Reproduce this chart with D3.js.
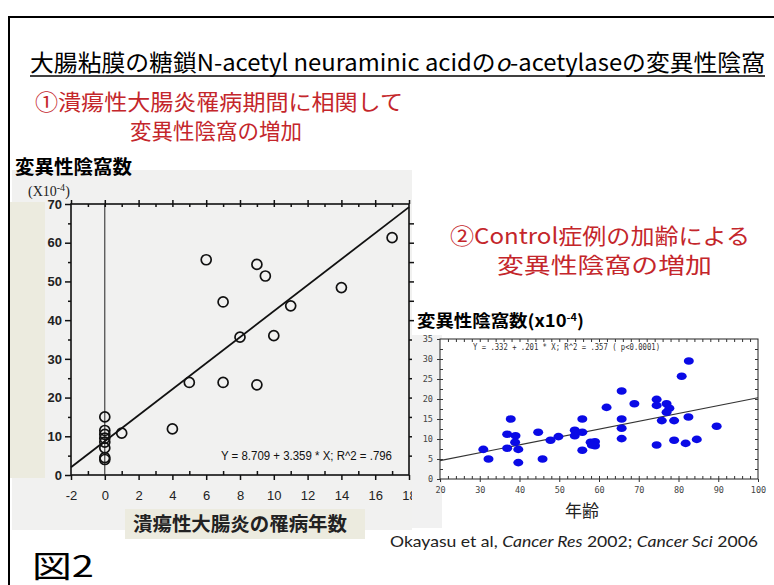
<!DOCTYPE html>
<html>
<head>
<meta charset="utf-8">
<script src="https://cdnjs.cloudflare.com/ajax/libs/d3/7.8.5/d3.min.js"></script>
<style>
body { margin: 0; background: #fff; }
svg { display: block; }
</style>
</head>
<body>
<svg></svg>
<script>
// left panel: years of disease vs variant crypts (x10^-4)
var leftYears  = [0, 0, 0, 0, 0, 0, 0, 0, 1, 4, 5, 7, 9, 8, 10, 6, 9, 9.5, 7, 11, 14, 17];
var leftCrypts = [15, 11.5, 10.5, 9.5, 8.5, 7, 4.5, 4, 10.8, 11.9, 23.9, 23.9, 23.3, 35.6, 36, 55.6, 54.4, 51.4, 44.7, 43.7, 48.4, 61.3];
var leftFitX = [-2, 18];
var leftFitY = [2.0, 69.2];
var leftXTicks = [-2, 0, 2, 4, 6, 8, 10, 12, 14, 16, 18];
var leftYTicks = [0, 10, 20, 30, 40, 50, 60, 70];

// right panel: age of control cases vs variant crypts
var rightAges   = [30.9, 32.2, 37.8, 36.9, 36.9, 39.0, 38.9, 39.7, 39.7, 44.7, 45.8, 47.8, 49.8, 53.9, 53.9, 55.8, 55.8, 55.8, 57.9, 59.0, 59.0, 58.2, 61.9, 65.7, 65.7, 65.7, 65.7, 68.9, 74.5, 74.5, 74.5, 77.0, 77.7, 77.0, 75.8, 78.9, 78.9, 80.8, 82.6, 82.5, 81.8, 84.6, 89.6];
var rightCrypts = [7.4, 5.0, 15.0, 11.2, 7.7, 10.8, 9.2, 7.4, 4.1, 11.7, 5.0, 9.7, 10.6, 12.2, 10.8, 15.0, 11.7, 7.2, 9.2, 9.3, 8.3, 8.5, 17.9, 22.0, 15.0, 12.7, 10.1, 18.8, 19.9, 18.4, 8.5, 18.8, 17.7, 16.7, 14.6, 14.6, 9.7, 25.7, 29.5, 15.5, 8.9, 9.9, 13.2];
var rightFitX = [20, 100];
var rightFitY = [4.6, 20.3];
var rightXTicks = [20, 30, 40, 50, 60, 70, 80, 90, 100];
var rightYTicks = [0, 5, 10, 15, 20, 25, 30, 35];

var W = 774, H = 585;
var jp = "'Noto Sans CJK JP', sans-serif";
var red = "#c4262b";

var svg = d3.select("svg").attr("width", W).attr("height", H);

svg.append("rect").attr("width", W).attr("height", H).attr("fill", "#fff");

// slide frame
svg.append("path")
    .attr("d", "M9,585 V17 H774")
    .attr("fill", "none")
    .attr("stroke", "#000")
    .attr("stroke-width", 2);

// title
svg.append("text")
    .attr("x", 30).attr("y", 71)
    .attr("font-family", jp).attr("font-size", 23)
    .attr("textLength", 735).attr("lengthAdjust", "spacingAndGlyphs")
    .html("大腸粘膜の糖鎖N-acetyl neuraminic acidの<tspan font-style='italic'>o</tspan>-acetylaseの変異性陰窩");
svg.append("line")
    .attr("x1", 30).attr("x2", 765).attr("y1", 76).attr("y2", 76)
    .attr("stroke", "#000").attr("stroke-width", 1.5);

var redLines = [
    {t: "①潰瘍性大腸炎罹病期間に相関して", x: 35, y: 110, w: 368},
    {t: "変異性陰窩の増加", x: 130, y: 139, w: 172},
    {t: "②Control症例の加齢による", x: 450, y: 244, w: 300},
    {t: "変異性陰窩の増加", x: 497, y: 273, w: 215}
];
svg.selectAll("text.red").data(redLines).enter().append("text")
    .attr("class", "red")
    .attr("x", function(d){ return d.x; })
    .attr("y", function(d){ return d.y; })
    .attr("textLength", function(d){ return d.w; })
    .attr("lengthAdjust", "spacingAndGlyphs")
    .attr("font-family", jp).attr("font-size", 22)
    .attr("fill", red)
    .text(function(d){ return d.t; });

// ---------- left panel ----------
svg.append("rect").attr("x", 12).attr("y", 170).attr("width", 400).attr("height", 360).attr("fill", "#f1f1f0");
svg.append("rect").attr("x", 10).attr("y", 202).attr("width", 35).attr("height", 276).attr("fill", "#ecebdf");
svg.append("rect").attr("x", 125).attr("y", 509).attr("width", 240).attr("height", 30).attr("fill", "#ecebdf");

var xL = d3.scaleLinear().domain([-2, 18]).range([71, 409]);
var yL = d3.scaleLinear().domain([0, 70]).range([475, 204]);

var gL = svg.append("g");

gL.append("rect")
    .attr("x", xL(-2)).attr("y", yL(70))
    .attr("width", xL(18) - xL(-2)).attr("height", yL(0) - yL(70))
    .attr("fill", "none").attr("stroke", "#111").attr("stroke-width", 1.6);

// x = 0 reference line
gL.append("line")
    .attr("x1", xL(0)).attr("x2", xL(0))
    .attr("y1", yL(70)).attr("y2", yL(0))
    .attr("stroke", "#222").attr("stroke-width", 1);

function styleAxis(g, size, weight) {
    g.select(".domain").remove();
    g.selectAll("line").attr("stroke", "#111").attr("stroke-width", 1.5);
    g.selectAll("text")
        .attr("font-family", "'Liberation Sans', Arial, sans-serif")
        .attr("font-size", size).attr("font-weight", weight).attr("fill", "#222");
}

var plainInt = function(d){ return String(d); };

var bottomL = gL.append("g").attr("transform", "translate(0," + yL(0) + ")")
    .call(d3.axisBottom(xL).tickValues(leftXTicks).tickSize(5).tickPadding(11).tickFormat(plainInt));
styleAxis(bottomL, 13, "normal");
gL.append("g").attr("transform", "translate(0," + yL(0) + ")")
    .call(d3.axisTop(xL).tickValues(d3.range(-1, 18, 2)).tickSize(4).tickFormat(""))
    .call(styleAxis, 13, "normal");

var leftAx = gL.append("g").attr("transform", "translate(" + xL(-2) + ",0)")
    .call(d3.axisLeft(yL).tickValues(leftYTicks).tickSize(6).tickPadding(3).tickFormat(plainInt));
styleAxis(leftAx, 13, "bold");
gL.append("g").attr("transform", "translate(" + xL(-2) + ",0)")
    .call(d3.axisLeft(yL).tickValues(d3.range(5, 70, 10)).tickSize(3).tickFormat(""))
    .call(styleAxis, 13, "normal");

gL.append("g").attr("transform", "translate(0," + yL(70) + ")")
    .call(d3.axisTop(xL).tickValues(leftXTicks).tickSize(4).tickFormat(""))
    .call(styleAxis, 13, "normal");
gL.append("g").attr("transform", "translate(0," + yL(70) + ")")
    .call(d3.axisBottom(xL).tickValues(d3.range(-1, 18, 1)).tickSize(3).tickFormat(""))
    .call(styleAxis, 13, "normal");

gL.append("g").attr("transform", "translate(" + xL(18) + ",0)")
    .call(d3.axisRight(yL).tickValues(d3.range(5, 70, 5)).tickSize(5).tickFormat(""))
    .call(styleAxis, 13, "normal");

gL.append("line")
    .attr("x1", xL(leftFitX[0])).attr("y1", yL(leftFitY[0]))
    .attr("x2", xL(leftFitX[1])).attr("y2", yL(leftFitY[1]))
    .attr("stroke", "#111").attr("stroke-width", 1.8);

gL.selectAll("circle").data(leftYears).enter().append("circle")
    .attr("cx", function(d){ return xL(d); })
    .attr("cy", function(d, i){ return yL(leftCrypts[i]); })
    .attr("r", 5)
    .attr("fill", "none").attr("stroke", "#111").attr("stroke-width", 1.7);

gL.append("text")
    .attr("x", 221).attr("y", 460)
    .attr("font-family", "'Liberation Sans', Arial, sans-serif").attr("font-size", 12.5)
    .attr("textLength", 171).attr("lengthAdjust", "spacingAndGlyphs")
    .attr("fill", "#111")
    .text("Y = 8.709 + 3.359 * X; R^2 = .796");

svg.append("text")
    .attr("x", 15).attr("y", 174)
    .attr("font-family", jp).attr("font-size", 19).attr("font-weight", "bold")
    .attr("textLength", 117).attr("lengthAdjust", "spacingAndGlyphs")
    .text("変異性陰窩数");
svg.append("text")
    .attr("x", 28).attr("y", 196)
    .attr("font-family", "'Liberation Serif', serif").attr("font-size", 14)
    .attr("fill", "#222")
    .html("(X10<tspan dy='-5' font-size='10'>-4</tspan><tspan dy='5'>)</tspan>");

svg.append("text")
    .attr("x", 133).attr("y", 531)
    .attr("font-family", jp).attr("font-size", 19).attr("font-weight", "bold")
    .attr("textLength", 214).attr("lengthAdjust", "spacingAndGlyphs")
    .attr("fill", "#222")
    .text("潰瘍性大腸炎の罹病年数");

// ---------- right panel ----------
svg.append("rect").attr("x", 412).attr("y", 335).attr("width", 30).attr("height", 193).attr("fill", "#f1f1f1");

var xR = d3.scaleLinear().domain([20, 100]).range([440, 758]);
var yR = d3.scaleLinear().domain([0, 35]).range([479, 339]);

var gR = svg.append("g");

gR.append("rect")
    .attr("x", xR(20)).attr("y", yR(35))
    .attr("width", xR(100) - xR(20)).attr("height", yR(0) - yR(35))
    .attr("fill", "#fff").attr("stroke", "#222").attr("stroke-width", 1);

function styleSmall(g) {
    g.select(".domain").remove();
    g.selectAll("line").attr("stroke", "#333").attr("stroke-width", 1);
    g.selectAll("text")
        .attr("font-family", "'DejaVu Sans Mono', monospace")
        .attr("font-size", 8.5).attr("fill", "#444");
}

gR.append("g").attr("transform", "translate(0," + yR(0) + ")")
    .call(d3.axisBottom(xR).tickValues(rightXTicks).tickSize(3).tickPadding(5))
    .call(styleSmall);
gR.append("g").attr("transform", "translate(0," + yR(0) + ")")
    .call(d3.axisTop(xR).tickValues(d3.range(22, 100, 2)).tickSize(3).tickFormat(""))
    .call(styleSmall);
gR.append("g").attr("transform", "translate(0," + yR(35) + ")")
    .call(d3.axisBottom(xR).tickValues(d3.range(22, 100, 2)).tickSize(3).tickFormat(""))
    .call(styleSmall);
gR.append("g").attr("transform", "translate(" + xR(20) + ",0)")
    .call(d3.axisLeft(yR).tickValues(rightYTicks).tickSize(3).tickPadding(4))
    .call(styleSmall);
gR.append("g").attr("transform", "translate(" + xR(20) + ",0)")
    .call(d3.axisRight(yR).tickValues(d3.range(2.5, 35, 2.5)).tickSize(3).tickFormat(""))
    .call(styleSmall);
gR.append("g").attr("transform", "translate(" + xR(100) + ",0)")
    .call(d3.axisLeft(yR).tickValues(d3.range(2.5, 35, 2.5)).tickSize(3).tickFormat(""))
    .call(styleSmall);

gR.append("line")
    .attr("x1", xR(rightFitX[0])).attr("y1", yR(rightFitY[0]))
    .attr("x2", xR(rightFitX[1])).attr("y2", yR(rightFitY[1]))
    .attr("stroke", "#333").attr("stroke-width", 1.1);

gR.selectAll("ellipse").data(rightAges).enter().append("ellipse")
    .attr("cx", function(d){ return xR(d); })
    .attr("cy", function(d, i){ return yR(rightCrypts[i]); })
    .attr("rx", 5).attr("ry", 3.8)
    .attr("fill", "#0a0ae6");

gR.append("text")
    .attr("x", 473).attr("y", 350)
    .attr("font-family", "'DejaVu Sans Mono', monospace").attr("font-size", 8)
    .attr("textLength", 187).attr("lengthAdjust", "spacingAndGlyphs")
    .attr("fill", "#333")
    .text("Y = .332 + .201 * X; R^2 = .357 ( p<0.0001)");

svg.append("text")
    .attr("x", 417).attr("y", 327)
    .attr("font-family", jp).attr("font-size", 17).attr("font-weight", "bold")
    .attr("textLength", 167).attr("lengthAdjust", "spacingAndGlyphs")
    .html("変異性陰窩数(x10<tspan dy='-6' font-size='10'>-4</tspan><tspan dy='6'>)</tspan>");

svg.append("text")
    .attr("x", 565).attr("y", 517)
    .attr("font-family", jp).attr("font-size", 17)
    .attr("fill", "#222")
    .text("年齢");

// footer
svg.append("text")
    .attr("x", 390).attr("y", 547)
    .attr("font-family", "Lato, 'Open Sans', sans-serif").attr("font-size", 15)
    .attr("textLength", 368).attr("lengthAdjust", "spacingAndGlyphs")
    .attr("fill", "#222")
    .html("Okayasu et al, <tspan font-style='italic'>Cancer Res</tspan> 2002; <tspan font-style='italic'>Cancer Sci</tspan> 2006");

svg.append("text")
    .attr("x", 32).attr("y", 577)
    .attr("font-family", jp).attr("font-size", 30)
    .attr("textLength", 62).attr("lengthAdjust", "spacingAndGlyphs")
    .text("図2");
</script>
</body>
</html>
